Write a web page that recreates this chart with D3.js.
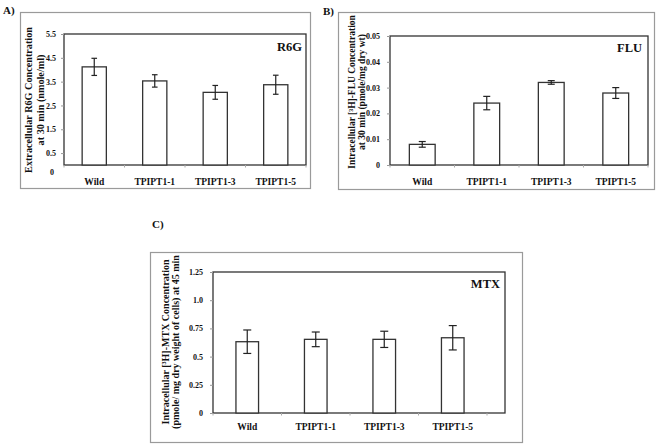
<!DOCTYPE html>
<html><head><meta charset="utf-8">
<script src="https://cdn.jsdelivr.net/npm/d3@7"></script>
<style>
body{margin:0;background:#fff;}
text{font-family:"Liberation Serif","Times New Roman",serif;font-weight:bold;fill:#111;}
</style></head>
<body><svg id="chart" width="658" height="445"></svg>
<script>
const categories = ["Wild", "TPIPT1-1", "TPIPT1-3", "TPIPT1-5"];

const r6gValues = [4.12, 3.53, 3.05, 3.37];
const r6gErrors = [0.36, 0.26, 0.29, 0.40];
const r6gTicks = [0.5, 1.5, 2.5, 3.5, 4.5, 5.5];

const fluValues = [0.0080, 0.0240, 0.0320, 0.0279];
const fluErrors = [0.0011, 0.0026, 0.0007, 0.0021];
const fluTicks = [0, 0.01, 0.02, 0.03, 0.04, 0.05];

const mtxValues = [0.632, 0.653, 0.653, 0.667];
const mtxErrors = [0.104, 0.065, 0.072, 0.108];
const mtxTicks = [0, 0.25, 0.5, 0.75, 1.0, 1.25];
const mtxTickLabels = ["0", "0.25", "0.5", "0.75", "1.0", "1.25"];

const svg = d3.select("#chart");

function panel(o) {
  const g = svg.append("g");
  g.append("rect").attr("x", o.frame[0] + 0.5).attr("y", o.frame[1] + 0.5)
    .attr("width", o.frame[2] - o.frame[0]).attr("height", o.frame[3] - o.frame[1])
    .attr("fill", "none").attr("stroke", "#9a9a9a").attr("stroke-width", 1.2);
  g.append("text").attr("x", o.letterPos[0]).attr("y", o.letterPos[1])
    .attr("font-size", 11).text(o.letter);

  const [L, T, R, B] = o.plot;
  const x = d3.scaleBand().domain(categories).range([L, o.bandRight]).paddingInner(o.pad).paddingOuter(o.pad / 2);
  const y = d3.scaleLinear().domain(o.domain).range([B, T]);

  g.append("rect").attr("x", L).attr("y", T).attr("width", R - L).attr("height", B - T)
    .attr("fill", "none").attr("stroke", "#333").attr("stroke-width", 1.3);

  const ya = d3.axisLeft(y).tickValues(o.ticks).tickSize(3).tickFormat((d, i) => o.tickLabels ? o.tickLabels[i] : d);
  const yg = g.append("g").attr("transform", `translate(${L},0)`).call(ya);
  yg.select(".domain").remove();
  yg.selectAll(".tick line").attr("stroke", "#999");
  yg.selectAll(".tick text").attr("font-size", 8).attr("font-family", "Liberation Serif").attr("font-weight", "bold").attr("fill", "#111").attr("x", -o.labelGap);
  if (o.extraZero) {
    g.append("text").attr("x", L - o.labelGap - 2).attr("y", y(0) + 10).attr("text-anchor", "end")
      .attr("font-size", 8).text("0");
  }

  const xa = d3.axisBottom(x).tickSize(0).tickPadding(o.xPad);
  const xg = g.append("g").attr("transform", `translate(0,${B})`).call(xa);
  xg.select(".domain").remove();
  xg.selectAll(".tick text").attr("font-size", 9.5).attr("font-family", "Liberation Serif").attr("font-weight", "bold").attr("fill", "#111");
  const step = x.step();
  g.selectAll(".xt").data(d3.range(categories.length + 1)).join("line")
    .attr("x1", i => L + i * step).attr("x2", i => L + i * step)
    .attr("y1", B).attr("y2", B + 2.5).attr("stroke", "#aaa");

  g.selectAll(".bar").data(o.values).join("rect")
    .attr("x", (d, i) => x(categories[i])).attr("width", x.bandwidth())
    .attr("y", d => y(d)).attr("height", d => B - y(d))
    .attr("fill", "#fff").attr("stroke", "#333").attr("stroke-width", 1.3);

  const cap = o.cap;
  o.values.forEach((v, i) => {
    const cx = x(categories[i]) + x.bandwidth() / 2;
    const e = o.errors[i];
    g.append("line").attr("x1", cx).attr("x2", cx).attr("y1", y(v + e)).attr("y2", y(v - e)).attr("stroke", "#222").attr("stroke-width", 1.2);
    g.append("line").attr("x1", cx - cap).attr("x2", cx + cap).attr("y1", y(v + e)).attr("y2", y(v + e)).attr("stroke", "#222").attr("stroke-width", 1.2);
    g.append("line").attr("x1", cx - cap).attr("x2", cx + cap).attr("y1", y(v - e)).attr("y2", y(v - e)).attr("stroke", "#222").attr("stroke-width", 1.2);
  });

  g.append("text").attr("x", o.namePos[0]).attr("y", o.namePos[1]).attr("text-anchor", "end")
    .attr("font-size", 12.5).text(o.name);

  const yt = g.append("text").attr("transform", `translate(${o.titlePos[0]},${o.titlePos[1]}) rotate(-90)`)
    .attr("text-anchor", "middle").attr("font-size", o.titleSize);
  o.title.forEach((line, i) => {
    yt.append("tspan").attr("x", 0).attr("dy", i === 0 ? 0 : o.titleLead).text(line);
  });
}

panel({
  frame: [20, 12, 310, 188], letter: "A)", letterPos: [3, 14],
  plot: [64, 34, 306, 165], bandRight: 306, pad: 0.6,
  domain: [0, 5.5], ticks: r6gTicks, labelGap: 8, extraZero: true, xPad: 13,
  values: r6gValues, errors: r6gErrors, cap: 2.8,
  name: "R6G", namePos: [302, 51],
  title: ["Extracellular R6G Concentration", "at 30 min  (nmole/ml)"],
  titlePos: [31.5, 100], titleSize: 10.2, titleLead: 12.5
});

panel({
  frame: [338, 12, 654, 189], letter: "B)", letterPos: [323, 15],
  plot: [390, 36, 648, 165], bandRight: 648, pad: 0.6,
  domain: [0, 0.05], ticks: fluTicks, labelGap: 10, extraZero: false, xPad: 13,
  values: fluValues, errors: fluErrors, cap: 3.5,
  name: "FLU", namePos: [642, 52],
  title: ["Intracellular [\u00B3H]-FLU Concentration", "at 30 min (pmole/mg dry wt)"],
  titlePos: [355, 92], titleSize: 9.5, titleLead: 10
});

panel({
  frame: [150, 252, 522, 442], letter: "C)", letterPos: [152, 228],
  plot: [213, 272, 505, 413], bandRight: 487, pad: 0.67,
  domain: [0, 1.25], ticks: mtxTicks, tickLabels: mtxTickLabels, labelGap: 10, extraZero: false, xPad: 10,
  values: mtxValues, errors: mtxErrors, cap: 4,
  name: "MTX", namePos: [500, 288],
  title: ["Intracellular [\u00B3H]-MTX Concentration", "(pmole/ mg dry weight of cells) at 45 min"],
  titlePos: [168.5, 342], titleSize: 10, titleLead: 10.5
});
</script></body></html>
